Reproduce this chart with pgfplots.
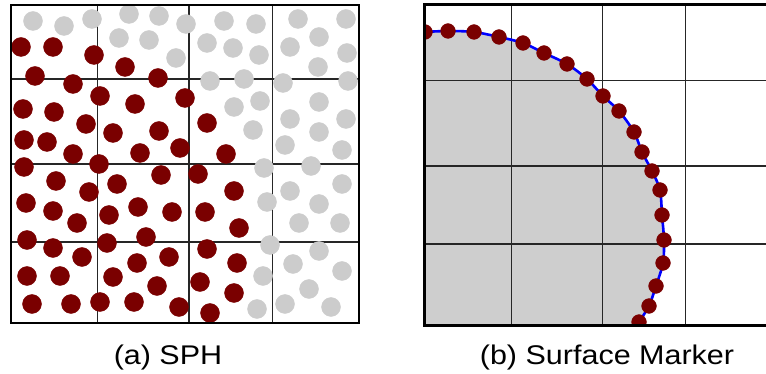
\documentclass[border=0pt]{standalone}
\usepackage{fontspec}
\setmainfont{Liberation Sans}
\usepackage{graphicx}
\usepackage{pgfplots}
\pgfplotsset{compat=1.18}
\definecolor{dred}{RGB}{122,0,0}
\definecolor{lgray}{RGB}{204,204,204}
\definecolor{fgray}{RGB}{206,206,206}
\begin{document}
\begin{tikzpicture}
\useasboundingbox (0,0) rectangle (766pt,374pt);
% ---------------- (a) SPH ----------------
\begin{axis}[
  scale only axis, width=348pt, height=318pt,
  at={(185pt,210pt)}, anchor=center,
  xmin=11, xmax=359, ymin=5, ymax=323, y dir=reverse,
  xtick={97.7,189,272.7}, ytick={79,164,242},
  xticklabels={}, yticklabels={}, major tick length=0pt,
  grid=major, grid style={line width=1.1pt, black!85},
  axis line style={draw=none},
  clip mode=individual, clip marker paths=true,
]
\addplot[only marks, mark=*, mark size=9.5pt, color=lgray, mark options={draw=none, fill=lgray}] coordinates {
(33,21) (64,26) (92,19) (129,14) (159,16) (186,24) (119,38) (149,40) (176,58)
(224,21) (256,24) (298,19) (346,19) (207,43) (233,48) (259,55) (290,47) (319,37)
(347,53) (318,67) (210,81) (244,79) (283,83) (348,81) (234,107) (260,101) (319,102)
(290,119) (346,119) (253,130) (319,132) (285,145) (342,150) (264,168) (311,166)
(342,184) (290,191) (267,202) (319,204) (299,223) (340,223) (270,245) (319,251)
(293,264) (342,271) (263,276) (309,289) (285,304) (257,309) (331,307)
};
\addplot[only marks, mark=*, mark size=9.5pt, color=dred, mark options={draw=none, fill=dred}] coordinates {
(21,47) (53,47) (94,55) (125,67) (35,76) (73,84) (100,96) (158,78) (135,104)
(185,98) (23,109) (54,112) (86,124) (113,133) (159,131) (24,140) (47,142) (73,154)
(140,153) (180,148) (24,167) (99,164) (161,175) (207,123) (226,154) (198,174)
(56,181) (89,192) (117,184) (26,203) (53,211) (77,223) (109,215) (138,207) (172,212)
(27,240) (53,248) (82,257) (107,243) (146,237) (169,257) (137,263) (27,276) (60,276)
(113,277) (157,286) (32,304) (71,304) (100,302) (134,302) (179,307) (234,191)
(205,212) (239,228) (207,249) (237,263) (200,282) (234,293) (210,313)
};
\draw[line width=2.7pt] (rel axis cs:0,0) rectangle (rel axis cs:1,1);
\end{axis}
% ---------------- (b) Surface Marker ----------------
\begin{axis}[
  scale only axis, width=342pt, height=320pt,
  at={(595pt,209pt)}, anchor=center,
  xmin=424, xmax=766, ymin=5, ymax=325, y dir=reverse,
  xtick=\empty, ytick=\empty,
  axis line style={draw=none},
  clip mode=individual, clip marker paths=true,
]
\addplot[draw=none, fill=fgray] coordinates {
(424,32) (448,31) (474,32) (499,37) (523,43) (544,53) (567,64) (587,79) (603,96)
(619,111) (634,132) (642,152) (652,171) (660,190) (662,215) (664,240) (663,263)
(656,286) (649,306) (639,322) (637,326) (424,326)
} -- cycle;
\foreach \gx in {511.7,602.3,685.7} {
  \edef\temp{\noexpand\draw[line width=1.1pt, black!85] (axis cs:\gx,5) -- (axis cs:\gx,325);}
  \temp
}
\foreach \gy in {80.5,166,244} {
  \edef\temp{\noexpand\draw[line width=1.1pt, black!85] (axis cs:424,\gy) -- (axis cs:766,\gy);}
  \temp
}
\addplot[smooth, line width=2.6pt, color=blue] coordinates {
(424,32) (448,31) (474,32) (499,37) (523,43) (544,53) (567,64) (587,79) (603,96)
(619,111) (634,132) (642,152) (652,171) (660,190) (662,215) (664,240) (663,263)
(656,286) (649,306) (639,322) (637,326)
};
\addplot[only marks, mark=*, mark size=7.4pt, color=dred, mark options={draw=none, fill=dred}] coordinates {
(425,32) (448,31) (474,32) (499,37) (523,43) (544,53) (567,64) (587,79) (603,96)
(619,111) (634,132) (642,152) (652,171) (660,190) (662,215) (664,240) (663,263)
(656,286) (649,306) (639,322)
};
\draw[line width=3pt] (rel axis cs:1,1) -- (rel axis cs:0,1) -- (rel axis cs:0,0) -- (rel axis cs:1,0);
\end{axis}
% captions
\node[anchor=base, inner sep=0pt] at (168pt,9.5pt) {\fontsize{27}{32}\selectfont\scalebox{1.13}[1]{(a) SPH}};
\node[anchor=base, inner sep=0pt] at (607pt,9.5pt) {\fontsize{27}{32}\selectfont\scalebox{1.13}[1]{(b) Surface Marker}};
\end{tikzpicture}
\end{document}
